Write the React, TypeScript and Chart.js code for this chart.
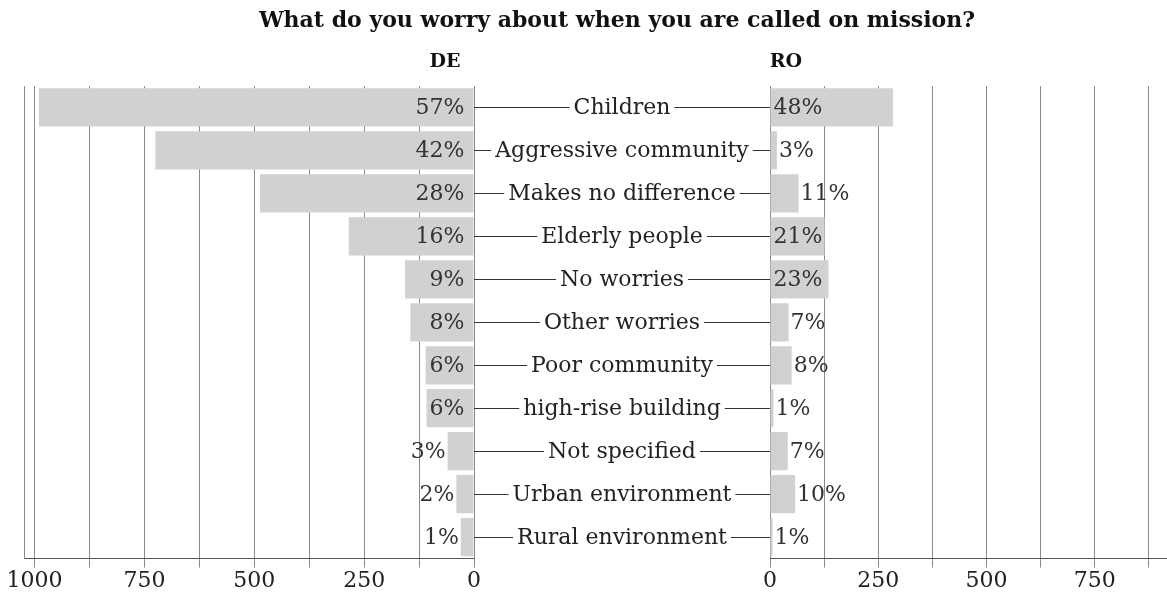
import React, { useEffect, useRef } from "react";
import { Chart, registerables } from "chart.js";

Chart.register(...registerables);

// ---------- data ----------
const categories = [
  "Children",
  "Aggressive community",
  "Makes no difference",
  "Elderly people",
  "No worries",
  "Other worries",
  "Poor community",
  "high-rise building",
  "Not specified",
  "Urban environment",
  "Rural environment",
];
const deValues = [990, 725, 487, 285, 157, 145, 110, 108, 60, 40, 30];
const roValues = [284, 16, 66, 126, 135, 43, 50, 8, 41, 58, 6];
const dePercentLabels = ["57%", "42%", "28%", "16%", "9%", "8%", "6%", "6%", "3%", "2%", "1%"];
const roPercentLabels = ["48%", "3%", "11%", "21%", "23%", "7%", "8%", "1%", "7%", "10%", "1%"];
const deGridValues = [0, 125, 250, 375, 500, 625, 750, 875, 1000];
const roGridValues = [0, 125, 250, 375, 500, 625, 750, 875];
const labelledTickValues = [0, 250, 500, 750, 1000];
const chartTitle = "What do you worry about when you are called on mission?";
const leftSeriesName = "DE";
const rightSeriesName = "RO";

// ---------- layout / style ----------
const W = 1167;
const H = 594;
const LEFT_ZERO = 474;
const RIGHT_ZERO = 770;
const PLOT_TOP = 86;
const LEFT_EDGE = 24;
const RIGHT_CANVAS_X = 700;
const FONT = '"DejaVu Serif", serif';
const BAR_COLOR = "#d0d1d3";
const GRID_COLOR = "#8a8a8a";
const AXIS_COLOR = "#555555";
const TEXT_COLOR = "#222222";

function percentLabelPlugin(labels: string[], side: "left" | "right") {
  return {
    id: "percentLabels" + side,
    afterDatasetsDraw(chart: any) {
      const ctx = chart.ctx;
      const meta = chart.getDatasetMeta(0);
      ctx.save();
      ctx.font = `22px ${FONT}`;
      ctx.fillStyle = "#333333";
      ctx.textBaseline = "middle";
      meta.data.forEach((bar: any, i: number) => {
        const { x, y, base } = bar.getProps(["x", "y", "base"], true);
        const text = labels[i];
        const tw = ctx.measureText(text).width;
        const len = Math.abs(x - base);
        if (side === "left") {
          ctx.textAlign = "right";
          if (tw + 10 <= len) ctx.fillText(text, base - 9, y + 1);
          else ctx.fillText(text, x - 2, y + 1);
        } else {
          ctx.textAlign = "left";
          if (tw + 4 <= len) ctx.fillText(text, base + 3, y + 1);
          else ctx.fillText(text, x + 2, y + 1);
        }
      });
      ctx.restore();
    },
  };
}

const middlePlugin = {
  id: "middleLabels",
  afterDraw(chart: any) {
    const ctx = chart.ctx;
    const yScale = chart.scales.y;
    const xScale = chart.scales.x;
    const x0 = xScale.getPixelForValue(0);
    const x1 = RIGHT_ZERO;
    const cx = (x0 + x1) / 2;
    ctx.save();
    ctx.font = `22px ${FONT}`;
    ctx.textBaseline = "middle";
    ctx.textAlign = "center";
    categories.forEach((cat, i) => {
      const y = Math.round(yScale.getPixelForValue(i)) + 0.5;
      const tw = ctx.measureText(cat).width;
      const gap = 4;
      ctx.strokeStyle = "#333333";
      ctx.lineWidth = 1;
      ctx.beginPath();
      ctx.moveTo(x0, y);
      ctx.lineTo(cx - tw / 2 - gap, y);
      ctx.moveTo(cx + tw / 2 + gap, y);
      ctx.lineTo(x1, y);
      ctx.stroke();
      ctx.fillStyle = TEXT_COLOR;
      ctx.fillText(cat, cx, y + 1);
    });
    // title and series names
    ctx.fillStyle = "#111111";
    ctx.font = `bold 22px ${FONT}`;
    ctx.fillText(chartTitle, 617, 21);
    ctx.font = `bold 19px ${FONT}`;
    ctx.fillText(leftSeriesName, 445, 62);
    ctx.fillText(rightSeriesName, 786, 62);
    ctx.restore();
  },
};

function makeConfig(
  values: number[],
  gridValues: number[],
  max: number,
  reverse: boolean,
  padding: any,
  plugins: any[],
  showBorderY: boolean
): any {
  return {
    type: "bar",
    data: {
      labels: categories,
      datasets: [
        {
          data: values,
          backgroundColor: BAR_COLOR,
          borderWidth: 0,
          barPercentage: 0.89,
          categoryPercentage: 1,
        },
      ],
    },
    options: {
      indexAxis: "y",
      animation: false,
      responsive: true,
      maintainAspectRatio: false,
      layout: { padding },
      plugins: {
        legend: { display: false },
        tooltip: { enabled: false },
        title: { display: false },
      },
      scales: {
        x: {
          type: "linear",
          min: 0,
          max,
          reverse,
          afterBuildTicks: (axis: any) => {
            axis.ticks = gridValues.map((v) => ({ value: v }));
          },
          ticks: {
            autoSkip: false,
            maxRotation: 0,
            padding: 0,
            color: TEXT_COLOR,
            font: { family: FONT, size: 22 },
            callback: (v: any) => (labelledTickValues.includes(Number(v)) ? String(v) : ""),
          },
          grid: {
            color: GRID_COLOR,
            lineWidth: 1,
            drawTicks: true,
            tickLength: 9,
          },
          border: { display: true, color: AXIS_COLOR, width: 1 },
        },
        y: {
          type: "category",
          display: showBorderY,
          ticks: { display: false },
          grid: { display: false, drawTicks: false },
          border: { display: showBorderY, color: GRID_COLOR, width: 1 },
        },
      },
    },
    plugins,
  };
}

export default function App() {
  const leftRef = useRef<HTMLCanvasElement | null>(null);
  const rightRef = useRef<HTMLCanvasElement | null>(null);

  useEffect(() => {
    const left = new Chart(
      leftRef.current as HTMLCanvasElement,
      makeConfig(
        deValues,
        deGridValues,
        1024,
        true,
        { left: LEFT_EDGE, right: W - LEFT_ZERO, top: PLOT_TOP, bottom: 0 },
        [percentLabelPlugin(dePercentLabels, "left"), middlePlugin],
        true
      )
    );
    const right = new Chart(
      rightRef.current as HTMLCanvasElement,
      makeConfig(
        roValues,
        roGridValues,
        917,
        false,
        { left: RIGHT_ZERO - RIGHT_CANVAS_X, right: 0, top: PLOT_TOP, bottom: 0 },
        [percentLabelPlugin(roPercentLabels, "right")],
        false
      )
    );
    return () => {
      left.destroy();
      right.destroy();
    };
  }, []);

  return (
    <div style={{ position: "absolute", left: 0, top: 0, width: W, height: H, background: "#fff" }}>
      <div style={{ position: "absolute", left: 0, top: 0, width: W, height: H }}>
        <canvas ref={leftRef} />
      </div>
      <div style={{ position: "absolute", left: RIGHT_CANVAS_X, top: 0, width: W - RIGHT_CANVAS_X, height: H }}>
        <canvas ref={rightRef} />
      </div>
    </div>
  );
}
